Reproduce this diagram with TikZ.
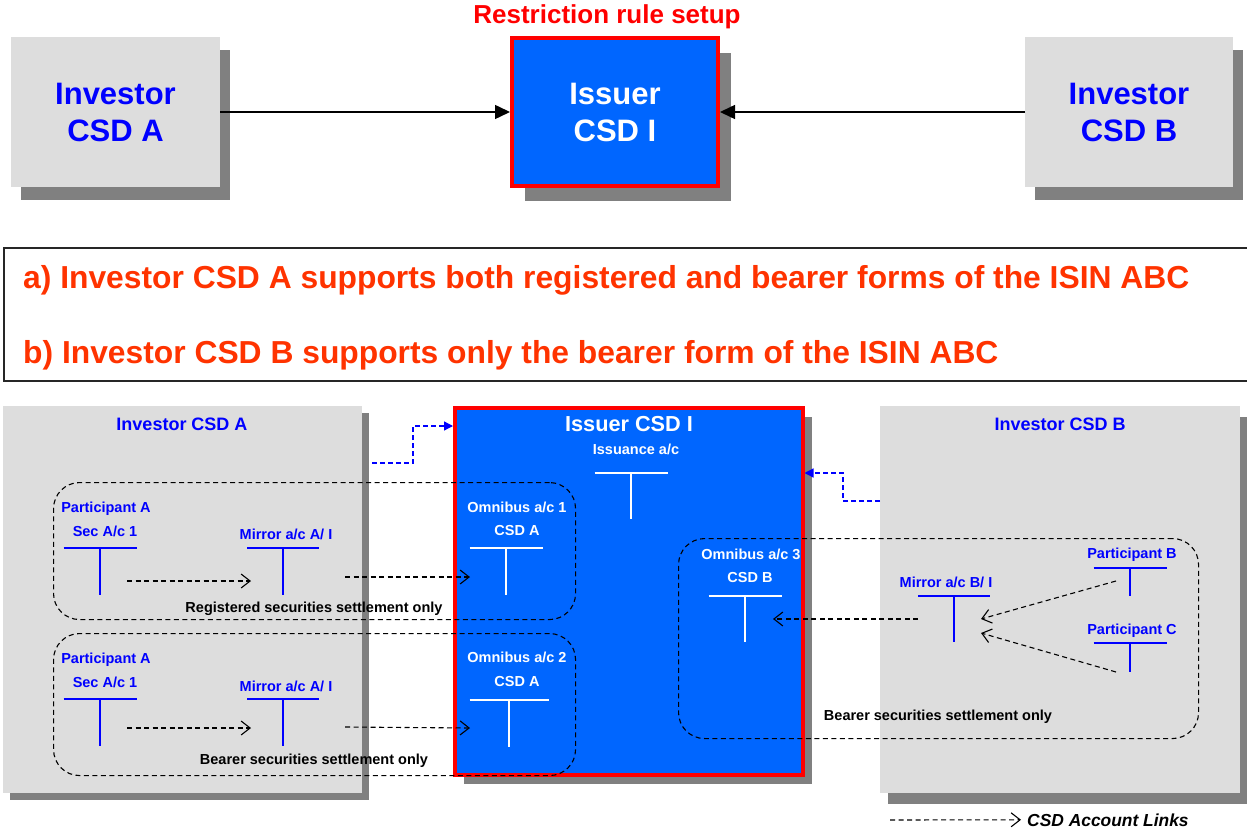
\documentclass[tikz,border=0pt]{standalone}
\usepackage{fontspec}
\setmainfont{Liberation Sans}
\usetikzlibrary{arrows.meta,shadows}

\definecolor{acblue}{HTML}{0000FF}
\definecolor{issuerblue}{HTML}{0066FF}
\definecolor{boxgray}{HTML}{DDDDDD}
\definecolor{shadowgray}{HTML}{808080}
\definecolor{ruleorange}{HTML}{FF3300}
\definecolor{rulered}{HTML}{FF0000}

% T-account: name, x, top y, width, height, colour
\newcommand{\tacct}[6]{%
  \node[tacctbox, minimum width=#4pt, minimum height=#5pt] (#1) at (#2,#3) {};
  \draw[tline=#6] (#1.north west) -- (#1.north east) (#1.north) -- (#1.south);
}

\tikzset{
  csdbox/.style={fill=boxgray, inner sep=0pt, outer sep=0pt, anchor=north west},
  issuerbox/.style={fill=issuerblue, draw=rulered, line width=3.5pt, inner sep=0pt, anchor=north west},
  boxshadow/.style 2 args={general shadow={fill=shadowgray, shadow xshift=#1pt, shadow yshift=-#2pt}},
  settlebox/.style={draw, dash pattern=on 5pt off 3.5pt, line width=1.1pt, rounded corners=26pt, inner sep=0pt, anchor=north west},
  tacctbox/.style={inner sep=0pt, outer sep=0pt, anchor=north},
  tline/.style={draw=#1, line width=1.6pt},
  lbl/.style={inner sep=0pt, anchor=base, font=\bfseries\fontsize{14.5}{17}\selectfont},
  acctlink/.style={dash pattern=on 5pt off 3.5pt, line width=1.1pt, -{Straight Barb[length=9pt,width=14pt]}},
  bluelink/.style={draw=acblue, dash pattern=on 5pt off 3pt, line width=1.3pt, -{Triangle[length=9pt,width=9pt]}, fill=none},
  toparrow/.style={line width=1.5pt, -{Triangle[length=15pt,width=14pt]}}
}

\begin{document}
\begin{tikzpicture}[x=1pt, y=-1pt]
  \useasboundingbox (0,0) rectangle (1247,832);

  % overview
  \node[lbl, text=rulered, font=\bfseries\fontsize{26}{30}\selectfont] (rule) at (607,24) {Restriction rule setup};
  \node[csdbox, boxshadow={10}{13}, minimum width=209pt, minimum height=150pt, align=center,
        text=acblue, font=\bfseries\fontsize{31}{37}\selectfont] (topA) at (11,37) {Investor\\CSD A};
  \node[issuerbox, line width=4pt, boxshadow={13}{15}, minimum width=206pt, minimum height=148pt, align=center,
        text=white, font=\bfseries\fontsize{31}{37}\selectfont] (topI) at (510,36) {Issuer\\CSD I};
  \node[csdbox, boxshadow={10}{13}, minimum width=208pt, minimum height=150pt, align=center,
        text=acblue, font=\bfseries\fontsize{31}{37}\selectfont] (topB) at (1025,37) {Investor\\CSD B};
  \draw[toparrow] (topA.east) -- (topI.west);
  \draw[toparrow] (topB.west) -- (topI.east);

  % the two cases
  \node[draw=black!85, line width=1.5pt, inner sep=0pt, anchor=north west,
        minimum width=1260pt, minimum height=133pt] (notes) at (3,247) {};
  \node[anchor=base west, inner sep=0pt, text=ruleorange, font=\bfseries\fontsize{31.8}{36}\selectfont]
    (noteA) at (23,288) {a) Investor CSD A supports both registered and bearer forms of the ISIN ABC};
  \node[anchor=base west, inner sep=0pt, text=ruleorange, font=\bfseries\fontsize{31.8}{36}\selectfont]
    (noteB) at (23,363) {b) Investor CSD B supports only the bearer form of the ISIN ABC};

  % detail
  \node[csdbox, boxshadow={7}{7}, minimum width=359pt, minimum height=387pt] (botA) at (3,406) {};
  \node[issuerbox, boxshadow={9}{9}, minimum width=348pt, minimum height=367pt] (botI) at (453,406) {};
  \node[csdbox, boxshadow={8}{11}, minimum width=360pt, minimum height=387pt] (botB) at (880,406) {};

  \node[lbl, text=acblue, font=\bfseries\fontsize{18}{20}\selectfont] (ttlA) at (182,430) {Investor CSD A};
  \node[lbl, text=white, font=\bfseries\fontsize{21.7}{24}\selectfont] (ttlI) at (629,431) {Issuer CSD I};
  \node[lbl, text=acblue, font=\bfseries\fontsize{18}{20}\selectfont] (ttlB) at (1060,430) {Investor CSD B};

  \node[settlebox, minimum width=522pt, minimum height=137pt] (regA) at (53,482) {};
  \node[settlebox, minimum width=522pt, minimum height=142pt] (berA) at (53,633) {};
  \node[settlebox, minimum width=520pt, minimum height=200pt] (berB) at (678,538) {};

  % accounts
  \node[lbl, text=white] (issL) at (636,454) {Issuance a/c};
  \tacct{iss}{631}{473}{73}{46}{white}

  \node[lbl, text=acblue] (partA1) at (106,512) {Participant A};
  \node[lbl, text=acblue] (secA1L) at (105,536) {Sec A/c 1};
  \tacct{secA1}{100}{548}{73}{47}{acblue}
  \node[lbl, text=acblue] (mirA1L) at (286,539) {Mirror a/c A/ I};
  \tacct{mirA1}{283}{548}{72}{47}{acblue}
  \node[lbl, text=white] (omn1L) at (517,512) {Omnibus a/c 1};
  \node[lbl, text=white] (omn1C) at (517,535) {CSD A};
  \tacct{omn1}{506}{548}{73}{47}{white}
  \node[lbl] (regL) at (314,612) {Registered securities settlement only};

  \node[lbl, text=acblue] (partA2) at (106,663) {Participant A};
  \node[lbl, text=acblue] (secA2L) at (105,687) {Sec A/c 1};
  \tacct{secA2}{100}{699}{73}{47}{acblue}
  \node[lbl, text=acblue] (mirA2L) at (286,691) {Mirror a/c A/ I};
  \tacct{mirA2}{283}{699}{72}{47}{acblue}
  \node[lbl, text=white] (omn2L) at (517,662) {Omnibus a/c 2};
  \node[lbl, text=white] (omn2C) at (517,686) {CSD A};
  \tacct{omn2}{509}{700}{79}{47}{white}
  \node[lbl] (berAL) at (314,764) {Bearer securities settlement only};

  \node[lbl, text=white] (omn3L) at (751,559) {Omnibus a/c 3};
  \node[lbl, text=white] (omn3C) at (750,582) {CSD B};
  \tacct{omn3}{745}{596}{73}{46}{white}
  \node[lbl, text=acblue] (mirBL) at (946,587) {Mirror a/c B/ I};
  \tacct{mirB}{954}{596}{72}{46}{acblue}
  \node[lbl, text=acblue] (partBL) at (1132,558) {Participant B};
  \tacct{partB}{1130}{568}{73}{28}{acblue}
  \node[lbl, text=acblue] (partCL) at (1132,634) {Participant C};
  \tacct{partC}{1130}{643}{73}{29}{acblue}
  \node[lbl] (berBL) at (938,720) {Bearer securities settlement only};

  % account links
  \draw[acctlink] ([shift={(27,33)}]secA1.north) -- ([shift={(-32,33)}]mirA1.north);
  \draw[acctlink] ([shift={(62,29)}]mirA1.north) -- ([shift={(-36,29)}]omn1.north);
  \draw[acctlink] ([shift={(27,29)}]secA2.north) -- ([shift={(-32,29)}]mirA2.north);
  \draw[acctlink] ([shift={(62,28)}]mirA2.north) -- ([shift={(-39,28)}]omn2.north);
  \draw[acctlink] ([shift={(-36,23)}]mirB.north) -- ([shift={(28,23)}]omn3.north);
  \draw[acctlink] ([shift={(-14,13)}]partB.north) -- ([shift={(27,23)}]mirB.north);
  \draw[acctlink] ([shift={(-14,29)}]partC.north) -- ([shift={(27,37)}]mirB.north);

  % CSD links
  \draw[bluelink] ([shift={(10,57)}]botA.north east) -- ++(41,0) |- ([yshift=-20pt]botI.north west);
  \draw[bluelink] ([shift={(0,95)}]botB.north west) -- ++(-37,0) |- ([yshift=-67pt]botI.north east);

  % legend
  \coordinate (legstart) at (890,820);
  \node[lbl, anchor=base west, font=\bfseries\itshape\fontsize{17.4}{20}\selectfont] (legtxt) at (1027,826) {CSD Account Links};
  \draw[acctlink] (legstart) -- ([xshift=-6pt]legtxt.west);
\end{tikzpicture}
\end{document}
